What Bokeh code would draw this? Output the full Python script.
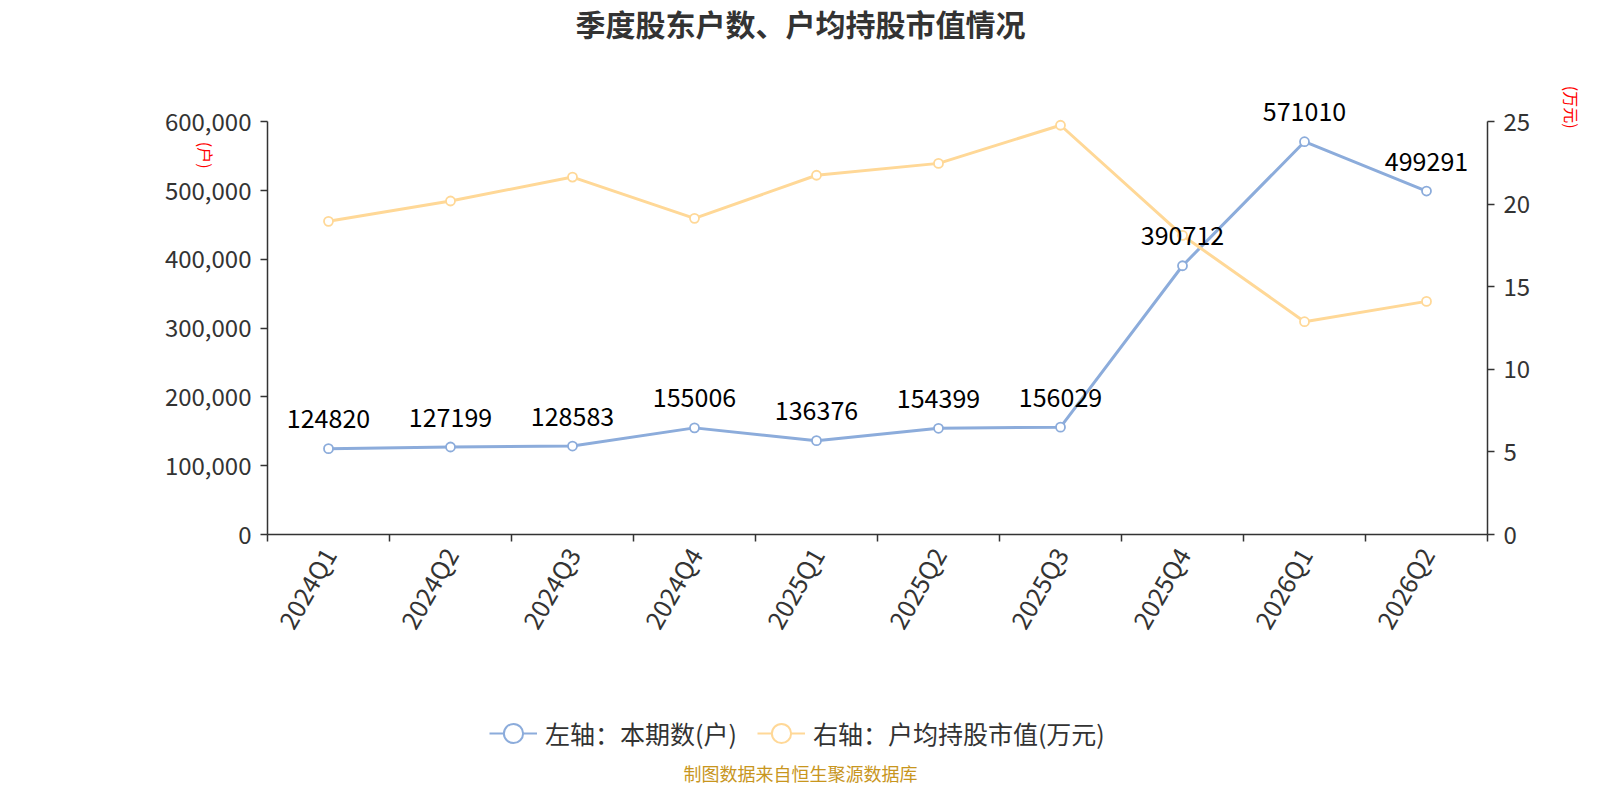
import math
from bokeh.plotting import figure
from bokeh.layouts import column
from bokeh.models import (Range1d, LinearAxis, FixedTicker, NumeralTickFormatter,
                          Legend, LegendItem, Label, ColumnDataSource)
from bokeh.core.properties import value
from bokeh.embed import file_html
from bokeh.resources import INLINE

categories = ["2024Q1", "2024Q2", "2024Q3", "2024Q4", "2025Q1",
              "2025Q2", "2025Q3", "2025Q4", "2026Q1", "2026Q2"]
holders = [124820, 127199, 128583, 155006, 136376, 154399, 156029, 390712, 571010, 499291]
avg_value = [18.97, 20.2, 21.65, 19.15, 21.76, 22.48, 24.79, 18.12, 12.89, 14.12]
left_ticks = [0, 100000, 200000, 300000, 400000, 500000, 600000]
right_ticks = [0, 5, 10, 15, 20, 25]
series_names = ["左轴：本期数(户)", "右轴：户均持股市值(万元)"]
title_text = "季度股东户数、户均持股市值情况"
source_text = "制图数据来自恒生聚源数据库"

FONT = "Noto Sans CJK SC"
BLUE = "#8CACDB"
YELLOW = "#FFD897"
AX = "#333333"

W, H1, H2 = 1584, 660, 124
LEFT_MAX, RIGHT_MAX = 600000, 25
HEAD = 1.1  # extra room above the axes so the top value label is not clipped

p = figure(width=W, height=H1, output_backend="svg", toolbar_location=None,
           x_range=Range1d(0, len(categories)), y_range=Range1d(0, LEFT_MAX * HEAD),
           min_border_left=267, min_border_right=97, min_border_top=80,
           min_border_bottom=126, outline_line_color=None, x_axis_type=None,
           y_axis_type=None)
p.extra_y_ranges = {"right": Range1d(0, RIGHT_MAX * HEAD)}

xs = [i + 0.5 for i in range(len(categories))]

# x axis: ticks on category boundaries, labels at category centres
xaxis = LinearAxis(ticker=FixedTicker(ticks=xs, minor_ticks=list(range(len(categories) + 1))))
xaxis.major_label_overrides = {x: c for x, c in zip(xs, categories)}
xaxis.major_tick_line_color = None
xaxis.minor_tick_line_color = AX
xaxis.minor_tick_line_width = 1.5
xaxis.minor_tick_out = 7
xaxis.minor_tick_in = 0
xaxis.axis_line_color = AX
xaxis.axis_line_width = 1.5
xaxis.major_label_orientation = math.pi / 3
xaxis.major_label_text_font = FONT
xaxis.major_label_text_font_size = "25px"
xaxis.major_label_text_color = AX
xaxis.major_label_standoff = 8
p.add_layout(xaxis, "below")

# left axis
yaxis = LinearAxis(ticker=FixedTicker(ticks=left_ticks), bounds=(0, LEFT_MAX),
                   formatter=NumeralTickFormatter(format="0,0"))
yaxis.axis_line_color = AX
yaxis.axis_line_width = 1.5
yaxis.major_tick_line_color = AX
yaxis.major_tick_line_width = 1.5
yaxis.major_tick_out = 7
yaxis.major_tick_in = 0
yaxis.minor_tick_line_color = None
yaxis.major_label_text_font = FONT
yaxis.major_label_text_font_size = "24px"
yaxis.major_label_text_color = AX
yaxis.major_label_standoff = 9
p.add_layout(yaxis, "left")

# right axis
raxis = LinearAxis(y_range_name="right", ticker=FixedTicker(ticks=right_ticks),
                   bounds=(0, RIGHT_MAX))
raxis.axis_line_color = AX
raxis.axis_line_width = 1.5
raxis.major_tick_line_color = AX
raxis.major_tick_line_width = 1.5
raxis.major_tick_out = 7
raxis.major_tick_in = 0
raxis.minor_tick_line_color = None
raxis.major_label_text_font = FONT
raxis.major_label_text_font_size = "24px"
raxis.major_label_text_color = AX
raxis.major_label_standoff = 9
p.add_layout(raxis, "right")

# grid
p.ygrid.ticker = FixedTicker(ticks=left_ticks)
p.ygrid.grid_line_color = "#CCCCCC"
p.ygrid.grid_line_width = 1.2
p.xgrid.grid_line_color = None

src = ColumnDataSource(dict(x=xs, holders=holders, avg=avg_value,
                            lab=[str(v) for v in holders]))

p.line("x", "holders", source=src, line_color=BLUE, line_width=3)
p.scatter("x", "holders", source=src, size=9, fill_color="white",
          line_color=BLUE, line_width=1.8)
p.line("x", "avg", source=src, line_color=YELLOW, line_width=3, y_range_name="right")
p.scatter("x", "avg", source=src, size=9, fill_color="white",
          line_color=YELLOW, line_width=1.8, y_range_name="right")

p.text("x", "holders", text="lab", source=src, text_align="center",
       text_baseline="alphabetic", y_offset=-30, text_font=value(FONT),
       text_font_size="25px", text_color="#000000")

# title
p.add_layout(Label(x=4.369, y=744000, text=title_text,
                   text_align="center", text_baseline="middle", text_font=FONT,
                   text_font_size="30px", text_font_style="bold", text_color=AX), "above")

# axis unit labels
p.add_layout(Label(x=-0.508, y=551300, text="(户)", angle=-math.pi / 2,
                   text_align="center", text_baseline="middle", text_font=FONT,
                   text_font_size="16px", text_color="#FF0000"), "left")
p.add_layout(Label(x=10.69, y=25.88, y_range_name="right", text="(万元)", angle=-math.pi / 2,
                   text_align="center", text_baseline="middle", text_font=FONT,
                   text_font_size="16px", text_color="#FF0000"), "right")

# ---- lower strip: legend and source note (its frame lines up with the main frame) ----
p2 = figure(width=W, height=H2, output_backend="svg", toolbar_location=None,
            x_range=Range1d(267, 1487), y_range=Range1d(0, H2), min_border=0,
            outline_line_color=None, x_axis_type=None, y_axis_type=None)
p2.xgrid.grid_line_color = None
p2.ygrid.grid_line_color = None

off = ColumnDataSource(dict(x=[-1000, -999], y=[-1000, -1000]))
k1 = p2.line("x", "y", source=off, line_color=BLUE, line_width=2)
m1 = p2.scatter("x", "y", source=off, fill_color="white", line_color=BLUE, line_width=2)
k2 = p2.line("x", "y", source=off, line_color=YELLOW, line_width=2)
m2 = p2.scatter("x", "y", source=off, fill_color="white", line_color=YELLOW, line_width=2)

legend = Legend(items=[LegendItem(label=series_names[0], renderers=[k1, m1]),
                       LegendItem(label=series_names[1], renderers=[k2, m2])],
                orientation="horizontal", location=(222, 27),
                glyph_width=48, glyph_height=48, label_standoff=8, spacing=20,
                padding=0, margin=0, border_line_color=None,
                background_fill_alpha=0, label_text_font=FONT,
                label_text_font_size="25px", label_text_color=AX)
p2.add_layout(legend, "center")

p2.add_layout(Label(x=800, y=12, text=source_text, text_align="center",
                    text_baseline="middle", text_font=FONT, text_font_size="18px",
                    text_color="#C8961E"))

layout = column(p, p2, spacing=0)
open("out.html", "w").write(file_html(layout, INLINE))
